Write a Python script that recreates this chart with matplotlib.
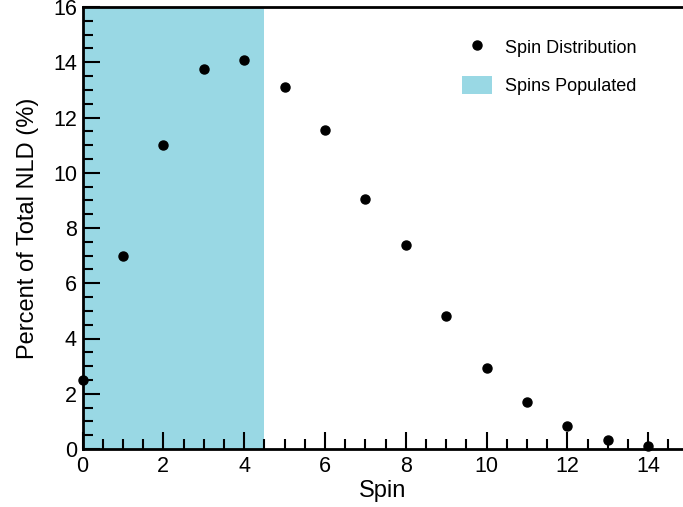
import matplotlib
matplotlib.use("Agg")
import matplotlib.pyplot as plt
from matplotlib.ticker import MultipleLocator
from matplotlib.patches import Patch
from matplotlib.lines import Line2D

spins = [0, 1, 2, 3, 4, 5, 6, 7, 8, 9, 10, 11, 12, 13, 14]
percent = [2.5, 7.0, 11.0, 13.77, 14.09, 13.1, 11.55, 9.05, 7.38, 4.82, 2.93, 1.70, 0.83, 0.33, 0.11]
populated_max = 4.5

plt.rcParams['font.family'] = ['Liberation Sans', 'DejaVu Sans']

fig = plt.figure(figsize=(6.83, 5.07), dpi=100)
ax = fig.add_axes([82.5/683, 1 - 449/507, 1 - 82.5/683, (449 - 7)/507])

ax.axvspan(0, populated_max, color='#99d8e4', lw=0, zorder=0)
ax.plot(spins, percent, 'o', color='black', ms=6.5, zorder=3, clip_on=False)

ax.set_xlim(0, (683 - 82.5) / 40.4)
ax.set_ylim(0, 16)
ax.xaxis.set_major_locator(MultipleLocator(2))
ax.xaxis.set_minor_locator(MultipleLocator(0.5))
ax.yaxis.set_major_locator(MultipleLocator(2))
ax.yaxis.set_minor_locator(MultipleLocator(0.5))
ax.tick_params(which='both', direction='in', width=1.5, labelsize=15.5, top=False, right=False)
ax.tick_params(which='major', length=12)
ax.tick_params(axis='x', which='major', pad=5)
ax.tick_params(axis='y', which='major', pad=4)
ax.tick_params(which='minor', length=7)
for s in ['left', 'bottom', 'top']:
    ax.spines[s].set_linewidth(2)
ax.spines['right'].set_visible(False)

ax.set_xlabel('Spin', fontsize=17, labelpad=2)
ax.set_ylabel('Percent of Total NLD (%)', fontsize=17, labelpad=10)

handles = [Line2D([], [], marker='o', ls='none', color='black', ms=6.5),
           Patch(facecolor='#99d8e4', edgecolor='none')]
ax.legend(handles, ['Spin Distribution', 'Spins Populated'], loc='upper left',
          bbox_to_anchor=(0.632, 0.931), frameon=False, fontsize=13,
          borderpad=0, borderaxespad=0,
          handlelength=1.67, handleheight=1.17, labelspacing=1.05, handletextpad=0.72)

fig.savefig('out.png', dpi=100)
